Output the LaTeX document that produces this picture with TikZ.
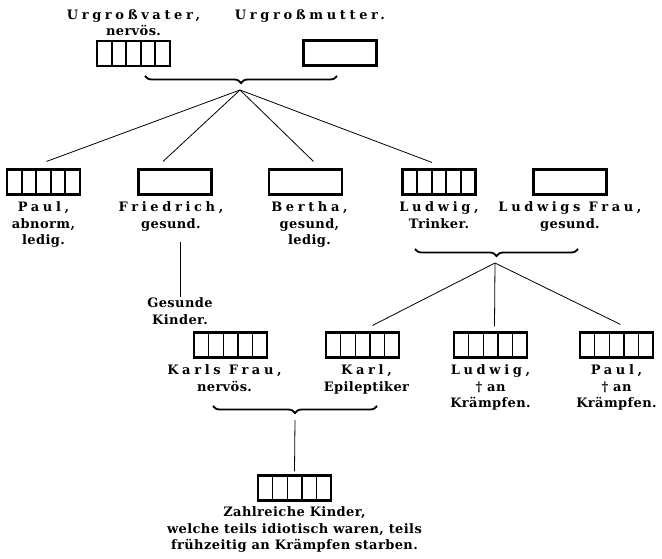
\documentclass[tikz,border=0pt]{standalone}
\usepackage{fontspec}
\setmainfont{DejaVu Serif}[LetterSpace=3]
\newfontfamily\sperr{DejaVu Serif}[LetterSpace=28]
\usetikzlibrary{calc, positioning}
\usetikzlibrary{decorations.pathreplacing}
\tikzset{
  % Text under the boxes
  lbl/.style={align=center, inner sep=1pt,
    font=\bfseries\fontsize{13}{16.5}\selectfont},
  % Healthy person: empty box
  leer/.style={draw, line width=2.1pt, minimum width=73pt,
    minimum height=25pt, inner sep=0pt},
  % Burdened person: box with compartments
  fach/.style={leer, path picture={
      \foreach \k in {1,...,4}
      \draw[line width=#1]
      ($(path picture bounding box.south west)!\k/5!(path picture bounding box.south east)$)
      -- ++(0,30pt);}},
  fach/.default=1.9pt,
  % Curly brace under parents
  klammer/.style={line width=1.8pt, decorate,
    decoration={brace, mirror, amplitude=7pt}},
  % Descent lines
  ab/.style={line width=0.8pt},
}

\begin{document}
\begin{tikzpicture}[x=1pt, y=-1pt]
  \useasboundingbox (0,0) rectangle (662,559);

  % great grandparents
  \node[fach] (vater) at (133.5,53.5) {};
  \node[leer] (mutter) at (340,53) {};
  \node[lbl, above=3pt of vater] (vlab) {{\sperr Urgroßvater,}\\nervös.};
  \coordinate (mx) at (310,0);
  \node[lbl, anchor=north] (mlab) at (vlab.north -| mx) {{\sperr Urgroßmutter.}};

  \draw[klammer] (145,76) -- (337,76);
  \coordinate (t1) at (240,90);

  % children
  \node[fach] (paul) at (43.5,182) {};
  \node[leer] (fried) at (175,182) {};
  \node[leer] (bertha) at (305.5,182) {};
  \node[fach] (ludwig) at (439,182) {};
  \node[leer] (lfrau) at (570,182) {};

  \node[lbl, below=5pt of paul] (plab) {{\sperr Paul,}\\abnorm,\\ledig.};
  \node[lbl, below=5pt of fried, xshift=-4pt] (flab) {{\sperr Friedrich,}\\gesund.};
  \node[lbl, below=5pt of bertha, xshift=4pt] (blab) {{\sperr Bertha,}\\gesund,\\ledig.};
  \node[lbl, below=5pt of ludwig] (llab) {{\sperr Ludwig,}\\Trinker.};
  \node[lbl, below=5pt of lfrau] (lflab) {{\sperr Ludwigs Frau,}\\gesund.};

  \draw[ab] (t1) -- ([xshift=3pt, yshift=7pt]paul.north);
  \draw[ab] (t1) -- ([xshift=-12pt, yshift=7pt]fried.north);
  \draw[ab] (t1) -- ([xshift=8pt, yshift=7pt]bertha.north);
  \draw[ab] (t1) -- ([xshift=-7pt, yshift=6pt]ludwig.north);

  % Friedrich's line
  \node[lbl] (gk) at (180,311) {Gesunde\\Kinder.};
  \draw[ab] ($(gk.north |- flab.south)+(0,10)$) -- (gk.north);

  % Ludwig's line
  \draw[klammer] (415,249) -- (578,249);
  \coordinate (t2) at (495,263);

  \node[fach=1.4pt] (kfrau) at (230.5,345) {};
  \node[fach=1.4pt] (karl) at (362.5,345) {};
  \node[fach=1.4pt] (ludw2) at (490.5,345) {};
  \node[fach=1.4pt] (paul2) at (616.5,345) {};

  \node[lbl, below=5pt of kfrau, xshift=-6pt] (kflab) {{\sperr Karls Frau,}\\nervös.};
  \node[lbl, below=5pt of karl, xshift=4pt] (klab) {{\sperr Karl,}\\Epileptiker};
  \node[lbl, below=5pt of ludw2] (l2lab) {{\sperr Ludwig,}\\† an\\Krämpfen.};
  \node[lbl, below=5pt of paul2] (p2lab) {{\sperr Paul,}\\† an\\Krämpfen.};

  \draw[ab] (t2) -- ([xshift=10pt, yshift=6pt]karl.north);
  \draw[ab] (t2) -- ([xshift=4pt, yshift=5pt]ludw2.north);
  \draw[ab] (t2) -- ([xshift=4pt, yshift=7pt]paul2.north);

  % Karl's line
  \draw[klammer] (213,406) -- (377,406);
  \coordinate (t3) at (295,420);
  \node[fach=1.4pt] (kinder) at (294.5,488) {};
  \node[lbl, below=4pt of kinder] (zlab)
    {Zahlreiche Kinder,\\welche teils idiotisch waren, teils\\frühzeitig an Krämpfen starben.};
  \draw[ab] (t3) -- ([yshift=3pt]kinder.north);
\end{tikzpicture}
\end{document}
